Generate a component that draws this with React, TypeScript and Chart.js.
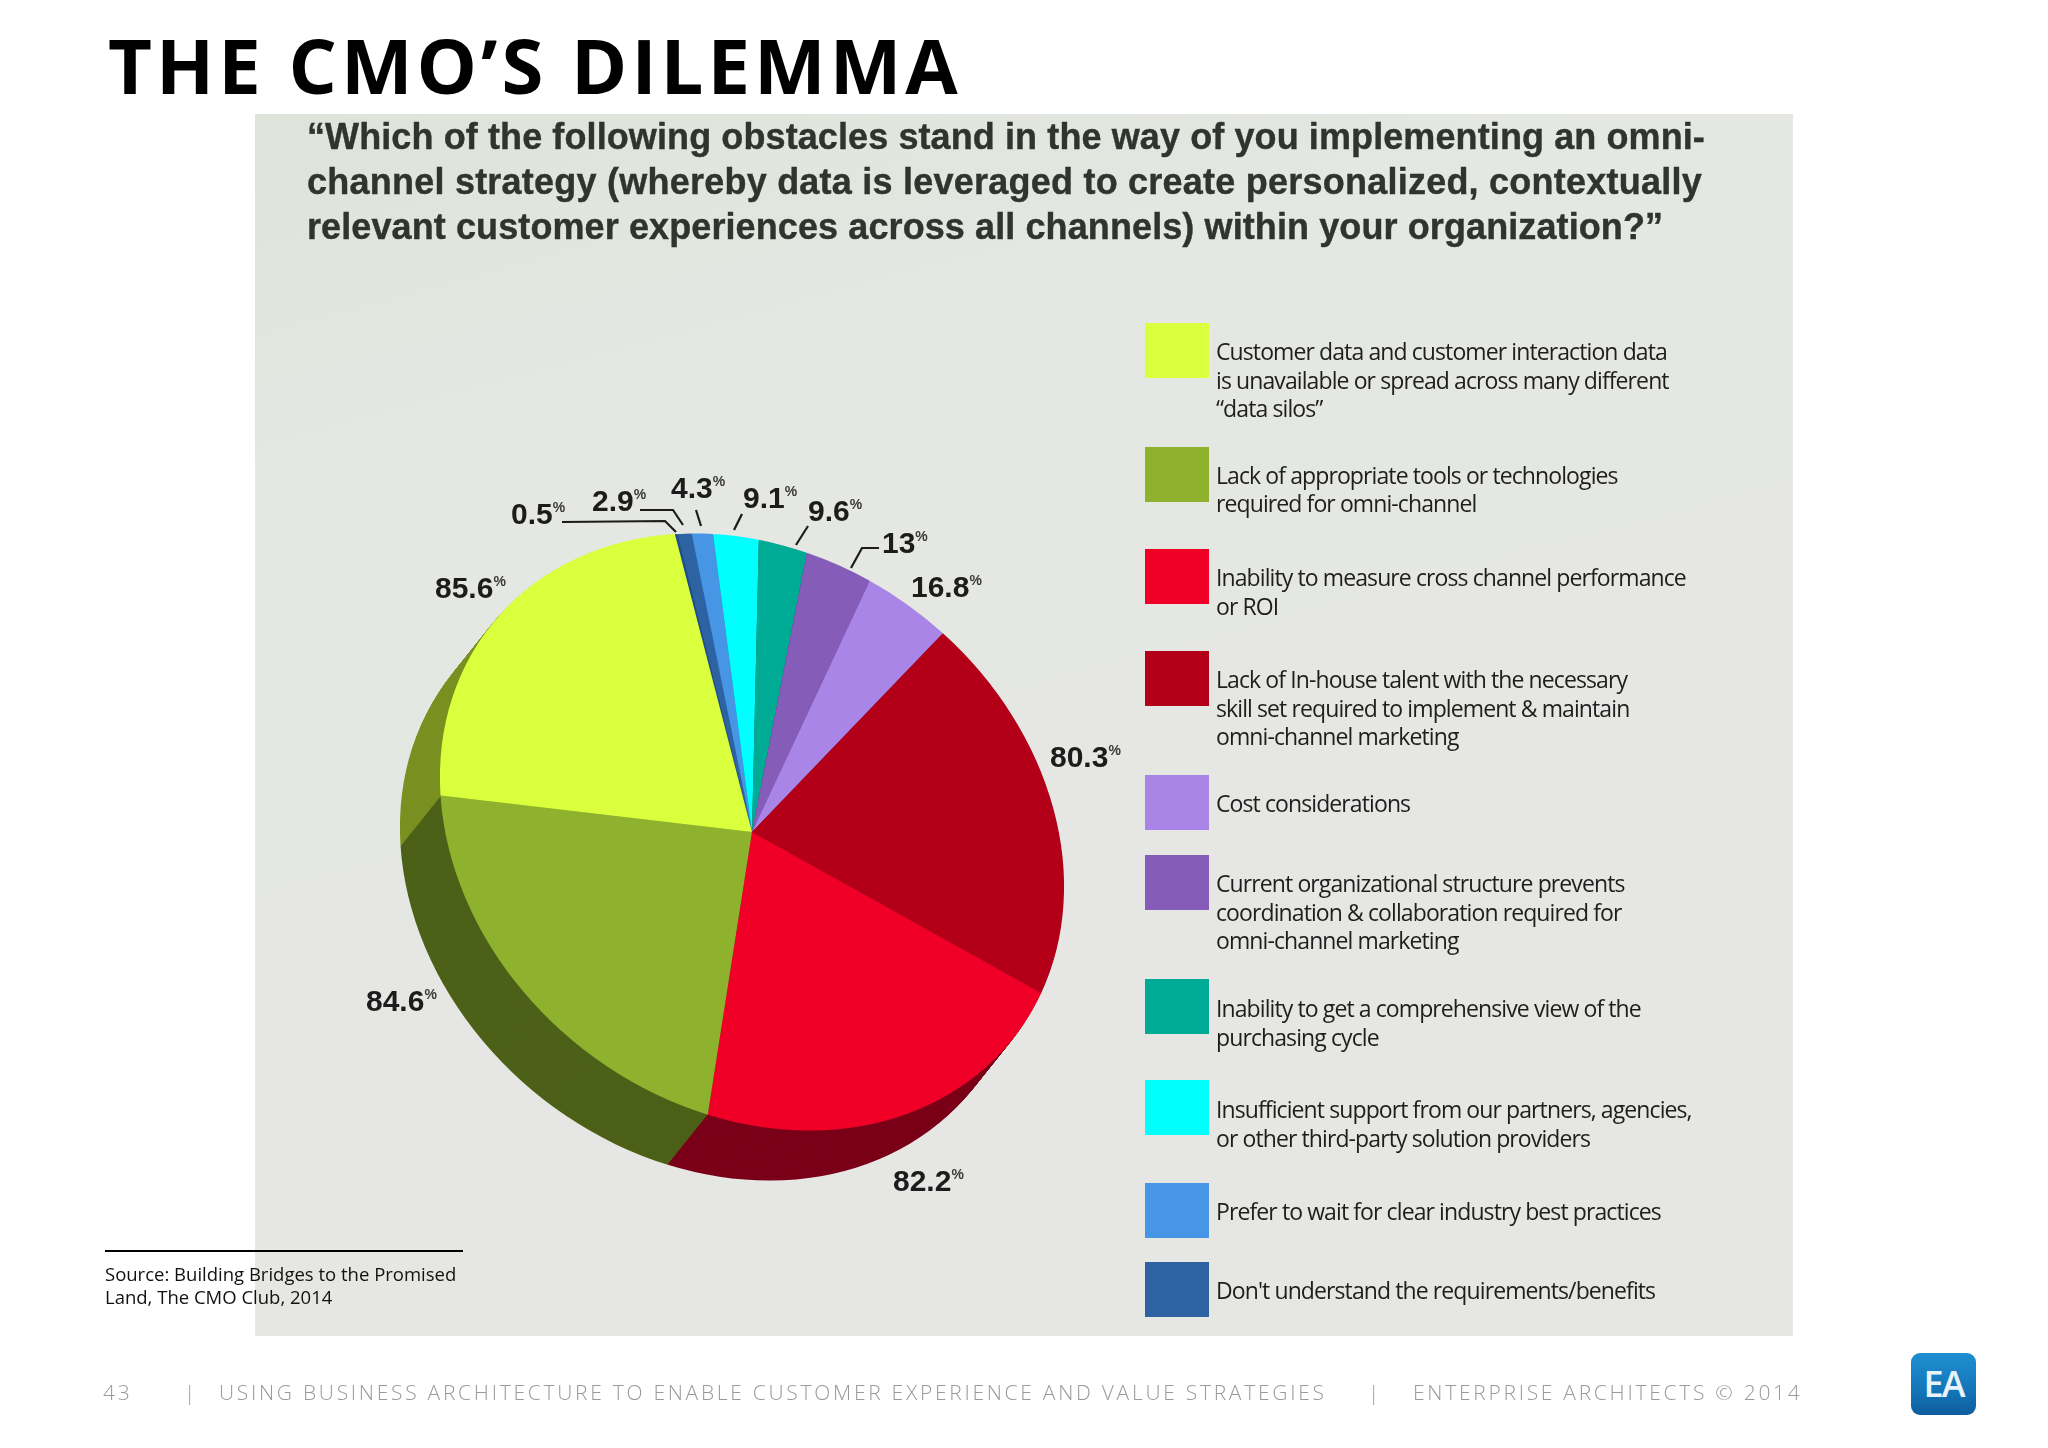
import React, { useEffect, useRef } from "react";
import { Chart, registerables } from "chart.js";

Chart.register(...registerables);

// ---- data, in legend order ----
const categories = [
  "Customer data and customer interaction data is unavailable or spread across many different “data silos”",
  "Lack of appropriate tools or technologies required for omni-channel",
  "Inability to measure cross channel performance or ROI",
  "Lack of In-house talent with the necessary skill set required to implement & maintain omni-channel marketing",
  "Cost considerations",
  "Current organizational structure prevents coordination & collaboration required for omni-channel marketing",
  "Inability to get a comprehensive view of the purchasing cycle",
  "Insufficient support from our partners, agencies, or other third-party solution providers",
  "Prefer to wait for clear industry best practices",
  "Don't understand the requirements/benefits",
  "Other",
];
const values = [85.6, 84.6, 82.2, 80.3, 16.8, 13, 9.6, 9.1, 4.3, 2.9, 0.5];
const sliceColors = ["#d9ff3d", "#8eb22e", "#f00026", "#b30018", "#a985e8", "#855cb8", "#00ab96", "#00ffff", "#4795e5", "#2d62a3", "#1f4f8f"];
const sideColors = ["#7a9020", "#4c6018", "#7a0018", "#7a0018", "#5a4080", "#4a3070", "#006055", "#008888", "#24558a", "#1a3a60", "#12305a"];

const legendLines = [
  ["Customer data and customer interaction data", "is unavailable or spread across many different", "“data silos”"],
  ["Lack of appropriate tools or technologies", "required for omni-channel"],
  ["Inability to measure cross channel performance", "or ROI"],
  ["Lack of In-house talent with the necessary", "skill set required to implement & maintain", "omni-channel marketing"],
  ["Cost considerations"],
  ["Current organizational structure prevents", "coordination & collaboration required for", "omni-channel marketing"],
  ["Inability to get a comprehensive view of the", "purchasing cycle"],
  ["Insufficient support from our partners, agencies,", "or other third-party solution providers"],
  ["Prefer to wait for clear industry best practices"],
  ["Don't understand the requirements/benefits"],
];
const questionLines = [
  "“Which of the following obstacles stand in the way of you implementing an omni-",
  "channel strategy (whereby data is leveraged to create personalized, contextually",
  "relevant customer experiences across all channels) within your organization?”",
];

// ---- layout ----
const CX = 752, CY = 832, R = 300;
// Pie plane to picture: keeps slices proportional while giving the drawn tilt.
const TILT = [1.008, -0.065, 0.257, 0.993];
const DEPTH = [-40, 50];
const DEPTH_STEPS = 52;
const swatchTops = [323, 447, 549, 651, 775, 855, 979, 1080, 1183, 1262];
const legendFirstLine = [352, 475.5, 578, 680, 804, 884, 1009, 1110, 1212, 1291];
const questionSpacing = [0.1, 0.23, 0.1];
// left edge + vertical centre of each value label, in legend order
const labelAnchors = [
  [435, 590], [366, 1003], [893, 1183], [1050, 759], [911, 589], [882, 545], [808, 513], [743, 500], [671, 490], [592, 503], [511, 516],
];
const leaders = [
  [[562, 522], [665, 521], [676, 532]],
  [[640, 510], [673, 510], [683, 525]],
  [[696, 510], [701, 526]],
  [[742, 514], [734, 530]],
  [[808, 526], [796, 545]],
  [[879, 548], [862, 548], [851, 568]],
];

const tilt = (ctx: CanvasRenderingContext2D) => {
  ctx.translate(CX, CY);
  ctx.transform(TILT[0], TILT[1], TILT[2], TILT[3], 0, 0);
  ctx.translate(-CX, -CY);
};

const piePlugin = {
  id: "tiltedPie",
  beforeDatasetsDraw(chart: any) {
    const ctx: CanvasRenderingContext2D = chart.ctx;
    const arcs = chart.getDatasetMeta(0).data;
    const sides = [...sideColors].reverse();
    for (let i = DEPTH_STEPS; i >= 1; i--) {
      ctx.save();
      ctx.translate((DEPTH[0] * i) / DEPTH_STEPS, (DEPTH[1] * i) / DEPTH_STEPS);
      tilt(ctx);
      arcs.forEach((a: any, j: number) => {
        ctx.beginPath();
        ctx.moveTo(a.x, a.y);
        ctx.arc(a.x, a.y, a.outerRadius, a.startAngle, a.endAngle);
        ctx.closePath();
        ctx.fillStyle = sides[j];
        ctx.fill();
      });
      ctx.restore();
    }
    ctx.save();
    tilt(ctx);
  },
  afterDatasetsDraw(chart: any) {
    chart.ctx.restore();
  },
  afterDraw(chart: any) {
    const ctx: CanvasRenderingContext2D = chart.ctx;
    ctx.save();
    ctx.strokeStyle = "#1c1c1c";
    ctx.lineWidth = 2.2;
    leaders.forEach((pts) => {
      ctx.beginPath();
      pts.forEach(([x, y], i) => (i ? ctx.lineTo(x, y) : ctx.moveTo(x, y)));
      ctx.stroke();
    });
    ctx.fillStyle = "#1c1c1c";
    ctx.textBaseline = "middle";
    values.forEach((v, i) => {
      const [x, y] = labelAnchors[i];
      ctx.font = "bold 30px 'Liberation Sans'";
      const t = String(v);
      ctx.fillText(t, x, y);
      const w = ctx.measureText(t).width;
      ctx.font = "bold 14px 'Liberation Sans'";
      ctx.fillStyle = "#3a3a3a";
      ctx.fillText("%", x + w, y - 8);
      ctx.fillStyle = "#1c1c1c";
    });
    ctx.restore();
  },
};

const abs = (o: React.CSSProperties): React.CSSProperties => ({ position: "absolute", whiteSpace: "nowrap", ...o });

export default function App() {
  const ref = useRef<HTMLCanvasElement>(null);
  useEffect(() => {
    const chart = new Chart(ref.current!, {
      type: "pie",
      data: {
        labels: [...categories].reverse(),
        datasets: [
          {
            data: [...values].reverse(),
            backgroundColor: [...sliceColors].reverse(),
            borderWidth: 0,
            clip: false,
          } as any,
        ],
      },
      options: {
        responsive: false,
        animation: false,
        devicePixelRatio: 1,
        rotation: 0,
        layout: { padding: { left: CX - R, right: 2048 - CX - R, top: CY - R, bottom: 1448 - CY - R } },
        plugins: { legend: { display: false }, tooltip: { enabled: false } },
        events: [],
      },
      plugins: [piePlugin],
    });
    return () => chart.destroy();
  }, []);

  const footer: React.CSSProperties = {
    fontFamily: "'Open Sans'",
    fontWeight: 300,
    fontSize: 21,
    letterSpacing: 2.72,
    color: "#9a9a9a",
    lineHeight: "28px",
    top: 1378,
  };

  return (
    <div style={{ position: "absolute", left: 0, top: 0, width: 2048, height: 1448, overflow: "hidden", background: "#fff" }}>
      <div
        style={{
          position: "absolute",
          left: 255,
          top: 114,
          width: 1538,
          height: 1222,
          background: "linear-gradient(165deg,#dee4d9 0%,#e4e7e2 22%,#e6e7e4 60%,#e6e6e3 100%)",
        }}
      />
      <canvas
        ref={ref}
        width={2048}
        height={1448}
        style={{ position: "absolute", left: 0, top: 0, display: "block", width: 2048, height: 1448, filter: "blur(0.5px)" }}
      />

      <div style={abs({ left: 108, top: 13, fontFamily: "'Open Sans'", fontWeight: 700, fontSize: 76, lineHeight: "104px", letterSpacing: 4, color: "#000" })}>
        THE CMO’S DILEMMA
      </div>

      {questionLines.map((t, i) => (
        <div
          key={i}
          style={abs({
            left: 307,
            top: 137 + i * 45 - 22,
            fontFamily: "'Liberation Sans'",
            fontWeight: 700,
            fontSize: 36,
            lineHeight: "44px",
            letterSpacing: questionSpacing[i],
            color: "#30342e",
            WebkitTextStroke: "0.4px #30342e",
            filter: "blur(0.4px)",
          })}
        >
          {t}
        </div>
      ))}

      {legendLines.map((lines, i) => (
        <React.Fragment key={i}>
          <div style={{ position: "absolute", left: 1145, top: swatchTops[i], width: 64, height: 55, background: sliceColors[i] }} />
          {lines.map((t, j) => (
            <div
              key={j}
              style={abs({
                left: 1216,
                top: legendFirstLine[i] + j * 28.6 - 16,
                fontFamily: "'Open Sans'",
                fontSize: 23,
                lineHeight: "30px",
                letterSpacing: -0.9,
                color: "#1e1e1e",
                filter: "blur(0.3px)",
              })}
            >
              {t}
            </div>
          ))}
        </React.Fragment>
      ))}

      <div style={{ position: "absolute", left: 105, top: 1250, width: 358, height: 2, background: "#000" }} />
      <div style={abs({ left: 105, top: 1262, fontFamily: "'Open Sans'", fontSize: 18.5, lineHeight: "24px", color: "#111" })}>Source: Building Bridges to the Promised</div>
      <div style={abs({ left: 105, top: 1285, fontFamily: "'Open Sans'", fontSize: 18.5, lineHeight: "24px", color: "#111" })}>Land, The CMO Club, 2014</div>

      <div style={abs({ ...footer, left: 103 })}>43</div>
      <div style={abs({ ...footer, left: 184 })}>|</div>
      <div style={abs({ ...footer, left: 219 })}>USING BUSINESS ARCHITECTURE TO ENABLE CUSTOMER EXPERIENCE AND VALUE STRATEGIES</div>
      <div style={abs({ ...footer, left: 1368 })}>|</div>
      <div style={abs({ ...footer, left: 1413 })}>ENTERPRISE ARCHITECTS © 2014</div>

      <div
        style={{
          position: "absolute",
          left: 1911,
          top: 1353,
          width: 65,
          height: 62,
          borderRadius: 9,
          background: "linear-gradient(180deg,#1f8fd0 0%,#1478bb 55%,#0f5d9e 100%)",
          color: "#e8f3fb",
          fontFamily: "'Open Sans'",
          fontWeight: 600,
          fontSize: 36,
          letterSpacing: -2,
          lineHeight: "62px",
          textAlign: "center",
        }}
      >
        EA
      </div>
    </div>
  );
}
